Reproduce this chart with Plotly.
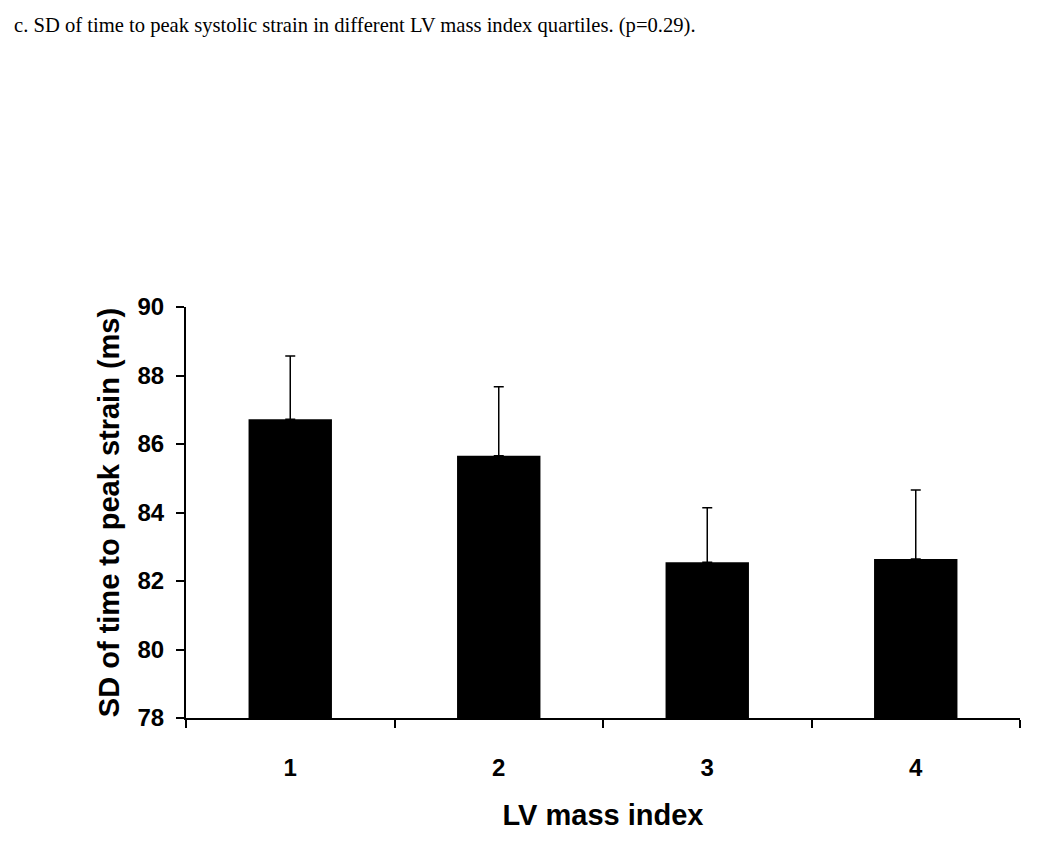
import plotly.graph_objects as go

categories = ["1", "2", "3", "4"]
means = [86.72, 85.66, 82.55, 82.64]
errors = [1.85, 2.01, 1.59, 2.02]
y_ticks = [78, 80, 82, 84, 86, 88, 90]

title_text = "c. SD of time to peak systolic strain in different LV mass index quartiles. (p=0.29)."
x_title = "LV mass index"
y_title = "SD of time to peak strain (ms)"

fig = go.Figure()
fig.add_trace(go.Bar(
    x=categories, y=means,
    marker=dict(color="black", line=dict(width=0)),
    error_y=dict(type="data", array=errors, arrayminus=[0] * len(errors),
                 symmetric=False, color="black", thickness=1.5, width=5),
    showlegend=False,
))

sans = "Liberation Sans, Arial, sans-serif"

fig.update_layout(
    width=1050, height=852,
    paper_bgcolor="white", plot_bgcolor="white",
    margin=dict(l=178, r=38, t=299, b=142),
    bargap=0.6,
    title=dict(text=title_text, xref="container", yref="container",
               x=6 / 1050, xanchor="left", y=1 - 17 / 852, yanchor="middle",
               font=dict(family="Liberation Serif, Times New Roman, serif", size=20.6, color="black")),
    xaxis=dict(
        type="category", categoryorder="array", categoryarray=categories,
        tickson="boundaries", ticks="outside", ticklen=8, tickwidth=2, tickcolor="black",
        showline=True, linecolor="black", linewidth=2, showgrid=False, zeroline=False,
        ticklabelstandoff=27,
        tickfont=dict(family=sans, size=24, color="black", weight="bold"),
        title=dict(text=x_title, standoff=25,
                   font=dict(family=sans, size=29, color="black", weight="bold")),
    ),
    yaxis=dict(
        range=[78, 90], tickvals=y_ticks, ticktext=[str(v) for v in y_ticks],
        ticks="outside", ticklen=8, tickwidth=2, tickcolor="black",
        showline=True, linecolor="black", linewidth=2, showgrid=False, zeroline=False,
        ticklabelstandoff=7,
        tickfont=dict(family=sans, size=24, color="black", weight="bold"),
        title=dict(text=y_title, standoff=9,
                   font=dict(family=sans, size=29, color="black", weight="bold")),
    ),
)

fig.write_html("out.html")
